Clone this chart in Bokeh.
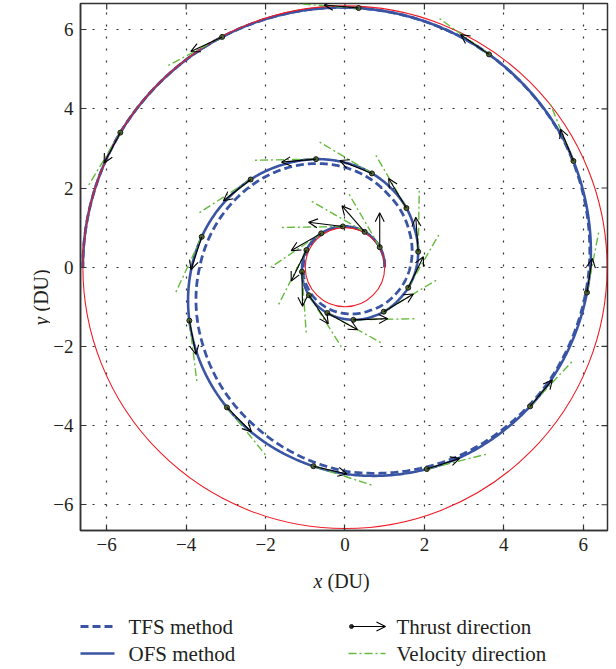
import numpy as np
from bokeh.plotting import figure
from bokeh.models import ColumnDataSource, Arrow, OpenHead, FixedTicker, Range1d
from bokeh.layouts import column, row
from bokeh.embed import file_html
from bokeh.resources import INLINE
from bokeh.core.properties import value

# ---------------- data ----------------
# transfer angle (deg) at which the radius (DU) of each trajectory was read
theta_knots = [0, 30, 60, 90, 120, 150, 180, 210, 240, 270, 300, 330, 360, 390, 420,
               450, 480, 510, 540, 570, 600, 630, 660, 690, 720, 750, 780, 810, 840,
               870, 900]
r_ofs = [1.00, 1.01, 1.02, 1.03, 1.04, 1.06, 1.08, 1.13, 1.21, 1.31, 1.43, 1.59,
         1.80, 2.01, 2.31, 2.64, 3.01, 3.43, 3.86, 4.31, 4.78, 5.22, 5.60, 5.91,
         6.18, 6.38, 6.50, 6.56, 6.59, 6.60, 6.60]
r_tfs = [1.00, 1.01, 1.02, 1.03, 1.03, 1.04, 1.05, 1.07, 1.11, 1.17, 1.26, 1.43,
         1.64, 1.86, 2.14, 2.52, 2.90, 3.27, 3.66, 4.10, 4.60, 5.15, 5.55, 5.88,
         6.15, 6.37, 6.50, 6.56, 6.59, 6.60, 6.60]
orbit_radii = [1.0, 6.6]

# points where thrust / velocity directions are shown (transfer angle, deg)
marker_theta = [30, 61, 93, 125, 156, 186, 218, 249, 279, 311, 342, 372, 404, 434,
                465, 497, 528, 559, 590, 621, 652, 683, 714, 745, 776, 807, 838, 869]
thrust_dir = [90, 131, 173, 210, 244, 271, 304, 331, 2, 31, 64, 94, 121, 158,
              185, 218, 252, 281, 315, 347, 18, 50, 81, 112, 145, 175, 205, 242]
velocity_dir = [120, 150, 181, 214, 243, 274, 302, 331, 1, 31, 60, 89, 120, 149,
                181, 213, 245, 277, 309, 342, 14, 47, 79, 112, 144, 176, 208, 239]

ticks = [-6, -4, -2, 0, 2, 4, 6]
tick_labels = ["\u22126", "\u22124", "\u22122", "0", "2", "4", "6"]

axis_var = ["x", "y"]
axis_unit = "(DU)"
legend_labels = ["TFS method", "OFS method", "Thrust direction", "Velocity direction"]

# ---------------- styles ----------------
BLUE = "#3a54a4"
RED = "#ee1c25"
GREEN = "#66bb3f"
INK = "#231f20"
FONT = "Liberation Serif"
THRUST_LEN = 0.87
VEL_LEN = 1.54
X0, X1, Y0, Y1 = -6.66, 6.61, -6.65, 6.66
TICK = 0.15


def polar_path(knots, radii, step=0.5):
    th = np.arange(knots[0], knots[-1] + step / 2, step)
    r = np.interp(th, knots, radii)
    t = np.radians(th)
    return r * np.cos(t), r * np.sin(t)


def blank(fig):
    fig.axis.visible = False
    fig.grid.visible = False
    fig.outline_line_color = None
    fig.background_fill_color = None
    fig.border_fill_color = "white"


# ---------------- main plot ----------------
p = figure(width=566, height=560, frame_width=527, frame_height=527,
           x_range=Range1d(X0, X1), y_range=Range1d(Y0, Y1),
           output_backend="svg", toolbar_location=None,
           min_border_left=29, min_border_right=10, min_border_top=3,
           min_border_bottom=30)
p.background_fill_color = "white"
p.border_fill_color = "white"
p.outline_line_color = "#333333"
p.outline_line_width = 1.5

overrides = {t: lab for t, lab in zip(ticks, tick_labels)}
for ax in (p.xaxis[0], p.yaxis[0]):
    ax.ticker = FixedTicker(ticks=ticks)
    ax.major_label_overrides = overrides
    ax.major_label_text_font = FONT
    ax.major_label_text_font_size = "19px"
    ax.major_label_text_color = INK
    ax.major_tick_in = 6
    ax.major_tick_out = 0
    ax.minor_tick_line_color = None
    ax.axis_line_color = "#333333"
    ax.axis_line_width = 1.5
    ax.major_tick_line_color = "#333333"
    ax.major_tick_line_width = 1.2
    ax.major_label_standoff = 7

for g in (p.xgrid[0], p.ygrid[0]):
    g.ticker = FixedTicker(ticks=ticks)
    g.grid_line_color = "#333333"
    g.grid_line_dash = "2 10"
    g.grid_line_width = 1.2

# inward ticks on the top and right sides of the box
tk = np.array(ticks, dtype=float)
p.segment(x0=tk, y0=np.full_like(tk, Y1), x1=tk, y1=np.full_like(tk, Y1 - TICK),
          line_color="#333333", line_width=1.2)
p.segment(x0=np.full_like(tk, X1), y0=tk, x1=np.full_like(tk, X1 - TICK), y1=tk,
          line_color="#333333", line_width=1.2)

# trajectories
xt, yt = polar_path(theta_knots, r_tfs)
p.line(xt, yt, line_color=BLUE, line_width=2.8, line_dash="8 4")
xo, yo = polar_path(theta_knots, r_ofs)
p.line(xo, yo, line_color=BLUE, line_width=2.6)

# initial and final orbits
for R in orbit_radii:
    p.ellipse(x=0, y=0, width=2 * R, height=2 * R, fill_color=None,
              line_color=RED, line_width=1.1)

# direction markers
mt = np.radians(marker_theta)
mr = np.interp(marker_theta, theta_knots, r_ofs)
mx, my = mr * np.cos(mt), mr * np.sin(mt)
ta = np.radians(thrust_dir)
va = np.radians(velocity_dir)
src_v = ColumnDataSource(dict(x0=mx, y0=my, x1=mx + VEL_LEN * np.cos(va),
                              y1=my + VEL_LEN * np.sin(va)))
p.segment("x0", "y0", "x1", "y1", source=src_v, line_color=GREEN, line_width=1.4,
          line_dash="8 3 2 3")
src_t = ColumnDataSource(dict(x0=mx, y0=my, x1=mx + THRUST_LEN * np.cos(ta),
                              y1=my + THRUST_LEN * np.sin(ta)))
p.add_layout(Arrow(source=src_t, x_start="x0", y_start="y0", x_end="x1", y_end="y1",
                   line_color="black", line_width=1.1,
                   end=OpenHead(size=9, line_color="black", line_width=1.1)))
p.scatter(mx, my, marker="circle", size=5, fill_color="#4f6b2e", line_color="#1a1a1a",
          line_width=1)

# ---------------- y-axis title strip (left of the plot, pixel coordinates) ----------
yl = figure(width=50, height=560, frame_width=50, frame_height=560,
            x_range=Range1d(0, 50), y_range=Range1d(0, 560),
            output_backend="svg", toolbar_location=None, min_border=0)
blank(yl)
txt = dict(text_font=value(FONT), text_font_size="20px", text_color=INK)
yl.text(x=[40], y=[560 - 322], text=[axis_var[1]], angle=np.pi / 2,
        text_font_style="italic", text_baseline="middle", text_align="left", **txt)
yl.text(x=[40], y=[560 - 308], text=[axis_unit], angle=np.pi / 2,
        text_baseline="middle", text_align="left", **txt)

# ---------------- x-axis title + legend strip (below, pixel coordinates) -----------
H = 109  # strip covers picture rows 560..669
bt = figure(width=616, height=H, frame_width=527, frame_height=H,
            x_range=Range1d(79, 606), y_range=Range1d(0, H),
            output_backend="svg", toolbar_location=None, min_border=0,
            min_border_left=79, min_border_right=10)
blank(bt)


def Y(img_y):
    return 669 - img_y


bt.text(x=[313], y=[Y(580)], text=[axis_var[0]], text_font_style="italic",
        text_baseline="alphabetic", **txt)
bt.text(x=[327], y=[Y(580)], text=[axis_unit], text_baseline="alphabetic", **txt)

row1, row2 = Y(626), Y(653)
bt.line([80, 114], [row1, row1], line_color=BLUE, line_width=2.8, line_dash="8 4")
bt.line([80, 114], [row2, row2], line_color=BLUE, line_width=2.6)
bt.add_layout(Arrow(x_start=351, y_start=row1, x_end=385, y_end=row1,
                    line_color="black", line_width=1.1,
                    end=OpenHead(size=9, line_color="black", line_width=1.1)))
bt.scatter([351], [row1], marker="circle", size=4, fill_color="#333333",
           line_color="#222222")
bt.line([348, 385], [row2, row2], line_color=GREEN, line_width=1.4, line_dash="8 3 2 3")
bt.text(x=[128, 128, 396, 396], y=[row1, row2, row1, row2], text=legend_labels,
        text_font=value(FONT), text_font_size="21px", text_color=INK,
        text_baseline="middle")

layout = column(row(yl, p, spacing=0), bt, spacing=0)
open("out.html", "w").write(file_html(layout, INLINE))
